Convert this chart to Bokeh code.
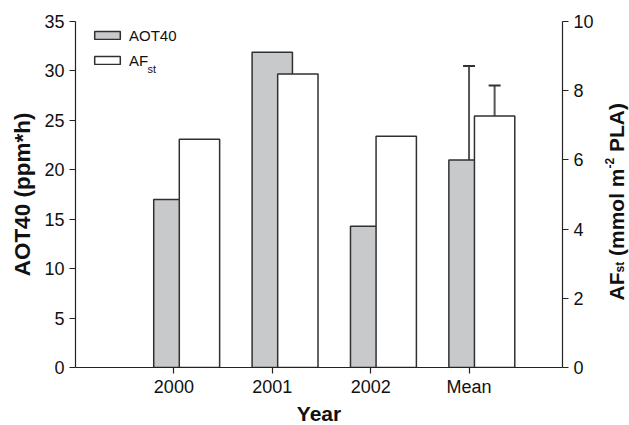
import numpy as np
from math import pi
from bokeh.plotting import figure
from bokeh.layouts import row
from bokeh.models import (Range1d, LinearAxis, FixedTicker, Whisker, TeeHead,
                          ColumnDataSource, Label, Legend, LegendItem)
from bokeh.embed import file_html
from bokeh.resources import INLINE

# ---- data ----
years = ["2000", "2001", "2002", "Mean"]
aot40 = [17.0, 31.9, 14.3, 21.0]          # ppm*h (left axis)
aot40_sd = [None, None, None, 9.5]
afst = [6.6, 8.48, 6.68, 7.27]            # mmol m-2 PLA (right axis)
afst_sd = [None, None, None, 0.88]
left_ticks = [0, 5, 10, 15, 20, 25, 30, 35]
right_ticks = [0, 2, 4, 6, 8, 10]

FONT = "Liberation Sans"
GRAY = "#c8c9cb"
EDGE = "#303030"
TXT = "#111111"

xpos = np.arange(1, len(years) + 1)
shift = 0.26
bw = 0.41

src = ColumnDataSource(dict(x=xpos, x2=xpos + shift, aot=aot40, af=afst))

RIGHT_BORDER = 38
TITLE_W = 629 - (75 + 487 + RIGHT_BORDER)

p = figure(frame_width=487, frame_height=346, output_backend="svg",
           toolbar_location=None, x_range=Range1d(0, 4.95), y_range=Range1d(0, 35),
           min_border_left=75, min_border_right=RIGHT_BORDER, min_border_top=21,
           min_border_bottom=58, x_axis_location=None, y_axis_location=None)
p.extra_y_ranges = {"af": Range1d(0, 10)}
p.outline_line_color = None
p.xgrid.visible = False
p.ygrid.visible = False
p.background_fill_color = "white"
p.border_fill_color = "white"

r_gray = p.vbar(x="x", top="aot", width=bw, bottom=0, source=src,
                fill_color=GRAY, line_color=EDGE, line_width=1.5)

wx = [xpos[i] for i in range(len(years)) if aot40_sd[i] is not None]
wl = [aot40[i] for i in range(len(years)) if aot40_sd[i] is not None]
wu = [aot40[i] + aot40_sd[i] for i in range(len(years)) if aot40_sd[i] is not None]
w1 = Whisker(source=ColumnDataSource(dict(base=wx, lower=wl, upper=wu)),
             base="base", lower="lower", upper="upper", dimension="height",
             line_color="#555555", line_width=2, lower_head=None,
             upper_head=TeeHead(size=12, line_color="#333333", line_width=2))
p.add_layout(w1)

r_white = p.vbar(x="x2", top="af", width=bw, bottom=0, source=src, y_range_name="af",
                 fill_color="white", line_color=EDGE, line_width=1.5)

wx2 = [xpos[i] + shift for i in range(len(years)) if afst_sd[i] is not None]
wl2 = [afst[i] for i in range(len(years)) if afst_sd[i] is not None]
wu2 = [afst[i] + afst_sd[i] for i in range(len(years)) if afst_sd[i] is not None]
w2 = Whisker(source=ColumnDataSource(dict(base=wx2, lower=wl2, upper=wu2)),
             base="base", lower="lower", upper="upper", dimension="height",
             y_range_name="af",
             line_color="#555555", line_width=2, lower_head=None,
             upper_head=TeeHead(size=12, line_color="#333333", line_width=2))
p.add_layout(w2)


def style_axis(ax):
    ax.axis_line_color = "#222222"
    ax.axis_line_width = 1.2
    ax.major_tick_line_color = "#222222"
    ax.major_tick_line_width = 1.2
    ax.major_tick_out = 6
    ax.major_tick_in = 0
    ax.minor_tick_line_color = None
    ax.major_label_text_font = FONT
    ax.major_label_text_font_size = "18px"
    ax.major_label_text_color = TXT
    ax.major_label_standoff = 5
    ax.axis_label_text_font = FONT
    ax.axis_label_text_font_style = "bold"
    ax.axis_label_text_color = TXT


ax_b = LinearAxis(ticker=FixedTicker(ticks=list(xpos)), axis_label="Year",
                  major_label_overrides={int(v): y for v, y in zip(xpos, years)})
style_axis(ax_b)
ax_b.major_label_standoff = 3
ax_b.axis_label_text_font_size = "21px"
ax_b.axis_label_standoff = 2
p.add_layout(ax_b, "below")

ax_l = LinearAxis(ticker=FixedTicker(ticks=left_ticks), axis_label="AOT40 (ppm*h)")
style_axis(ax_l)
ax_l.axis_label_text_font_size = "22.5px"
ax_l.axis_label_standoff = 6
p.add_layout(ax_l, "left")

ax_r = LinearAxis(y_range_name="af", ticker=FixedTicker(ticks=right_ticks), axis_label=None)
style_axis(ax_r)
ax_r.axis_label_text_font_size = "0px"
ax_r.axis_label_standoff = 0
p.add_layout(ax_r, "right")

# legend
legend = Legend(items=[LegendItem(label="AOT40", renderers=[r_gray]),
                       LegendItem(label="AF", renderers=[r_white])],
                location=(16, 297), padding=0, margin=0, spacing=5,
                glyph_width=32, glyph_height=10, label_height=20, label_standoff=6,
                label_text_font=FONT, label_text_font_size="15px",
                label_text_baseline="alphabetic",
                label_text_color=TXT,
                border_line_color=None, background_fill_alpha=0)
p.add_layout(legend)
p.add_layout(Label(x=72, y=299, x_units="screen", y_units="screen", text="st",
                   text_font=FONT, text_font_size="11px", text_color=TXT,
                   text_baseline="alphabetic"))

# right-axis title in a narrow companion panel, composed with sub/superscripts
t = figure(width=TITLE_W, height=425, output_backend="svg", toolbar_location=None,
           x_range=Range1d(0, 1), y_range=Range1d(0, 1), min_border=0,
           x_axis_location=None, y_axis_location=None)
t.outline_line_color = None
t.xgrid.visible = False
t.ygrid.visible = False

ARIAL_B = {" ": 278, "(": 333, ")": 333, "-": 333, "2": 556, "A": 722, "F": 611,
           "L": 611, "P": 667, "l": 278, "m": 889, "o": 611, "s": 556, "t": 333}
# (text, font px, baseline shift, leading gap in spaces of main font)
pieces = [("AF", 21, 0, 0), ("st", 12, -3, 0), ("(mmol m", 21, 0, 1),
          ("-2", 12, 7, 0), ("PLA)", 21, 0, 1)]
base_x = 616 - (75 + 487 + RIGHT_BORDER)
pos = 65.0
for txt, fs, shift_b, gap in pieces:
    pos += gap * ARIAL_B[" "] / 1000 * 21
    t.add_layout(Label(x=base_x - shift_b, y=pos, x_units="screen", y_units="screen",
                       text=txt, angle=pi / 2, text_font=FONT, text_font_style="bold",
                       text_font_size=f"{fs}px", text_align="left",
                       text_baseline="alphabetic", text_color=TXT))
    pos += sum(ARIAL_B[c] for c in txt) / 1000 * fs

layout = row(p, t, spacing=0)
open("out.html", "w").write(file_html(layout, INLINE))
